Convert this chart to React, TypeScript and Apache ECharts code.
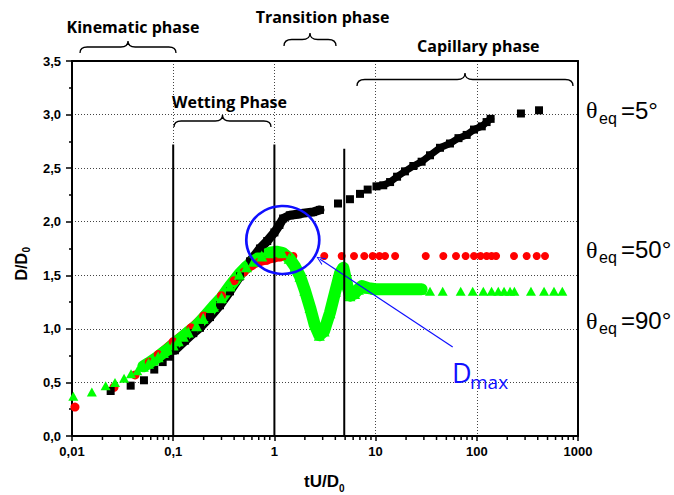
import { useEffect, useRef } from 'react';
import * as echarts from 'echarts';

// ---------------- data ----------------
const xTickLabels = ['0,01', '0,1', '1', '10', '100', '1000'];
const yTickLabels = ['0,0', '0,5', '1,0', '1,5', '2,0', '2,5', '3,0', '3,5'];

// θeq = 5° (black squares)
const blackLow = [[0.0241, 0.42], [0.038, 0.47], [0.0514, 0.52], [0.065, 0.62], [0.0787, 0.69], [0.093, 0.74]];
const blackDense = [
  [0.104, 0.8], [0.131, 0.89], [0.158, 0.96], [0.184, 1.01], [0.231, 1.11], [0.29, 1.22], [0.364, 1.35],
  [0.457, 1.49], [0.574, 1.63], [0.72, 1.75], [0.85, 1.82], [1.0, 1.9], [1.12, 1.97], [1.22, 2.03],
  [1.42, 2.06], [1.7, 2.07], [1.93, 2.08], [2.4, 2.09], [2.82, 2.11],
];
const blackMid = [[4.25, 2.17], [5.58, 2.21], [7.01, 2.26], [8.35, 2.3]];
const blackDense2 = [
  [10.2, 2.33], [11.9, 2.34], [13.9, 2.37], [16.3, 2.42], [19.5, 2.47], [23.6, 2.52], [28.5, 2.56],
  [34.5, 2.62], [43.3, 2.69], [54.3, 2.73], [65.9, 2.78], [79.4, 2.81], [93.8, 2.86], [112, 2.89],
  [125, 2.93], [137, 2.96],
];
const blackHigh = [[273, 3.01], [412, 3.04]];

// θeq = 50° (red circles)
const redLow = [[0.0107, 0.27], [0.026, 0.455], [0.042, 0.57]];
const redDense = [
  [0.058, 0.69], [0.071, 0.76], [0.1, 0.88], [0.15, 1.01], [0.2, 1.12], [0.3, 1.31], [0.4, 1.45],
  [0.5, 1.53], [0.6, 1.59], [0.7, 1.62], [0.84, 1.64], [1.0, 1.66], [1.14, 1.67], [1.32, 1.68],
];
const redSparse = [
  [1.54, 1.68], [3.11, 1.68], [4.62, 1.68], [6.12, 1.68], [7.73, 1.68], [9.35, 1.68], [10.9, 1.68],
  [12.4, 1.68], [15.6, 1.68], [31.3, 1.68], [46.7, 1.68], [62.3, 1.68], [77.6, 1.68], [93.8, 1.68],
  [109, 1.68], [125, 1.68], [140, 1.68], [155, 1.68], [233, 1.68], [311, 1.68], [391, 1.68], [472, 1.68],
];

// θeq = 90° (green triangles)
const greenLow = [[0.0103, 0.37], [0.0157, 0.41], [0.0215, 0.47], [0.0266, 0.5], [0.0327, 0.54], [0.0383, 0.58], [0.0442, 0.61]];
const greenDense = [
  [0.0507, 0.65], [0.057, 0.68], [0.0636, 0.71], [0.071, 0.74], [0.08, 0.78], [0.089, 0.81], [0.1, 0.85],
  [0.112, 0.89], [0.126, 0.93], [0.141, 0.97], [0.17, 1.03], [0.198, 1.1], [0.25, 1.21], [0.3, 1.29],
  [0.364, 1.4], [0.45, 1.51], [0.53, 1.58], [0.62, 1.63], [0.75, 1.68], [0.9, 1.71], [1.05, 1.72],
  [1.2, 1.71], [1.4, 1.66], [1.6, 1.58], [1.79, 1.49], [2.0, 1.36], [2.25, 1.2], [2.5, 1.04],
  [2.78, 0.94], [3.1, 0.98], [3.54, 1.15], [4.0, 1.35], [4.45, 1.52], [4.8, 1.57], [5.2, 1.42],
  [5.58, 1.31], [6.2, 1.33], [6.76, 1.37], [7.3, 1.4], [8.5, 1.38], [10, 1.37], [14, 1.37], [20, 1.37],
  [28.5, 1.37],
];
const greenSparse = [
  [34.5, 1.35], [46.0, 1.35], [69.3, 1.35], [91.1, 1.35], [116, 1.35], [140, 1.35], [163, 1.35],
  [186, 1.35], [213, 1.35], [235, 1.35], [343, 1.35], [462, 1.35], [579, 1.35], [700, 1.35],
];

// phase boundaries: [x, top of line]
const phaseBoundaries = [[0.1, 2.72], [1, 2.72], [4.9, 2.68]];
// Dmax marker
const dmaxCircle = [[1.21, 1.83]];
const dmaxPointer = [[57.8, 0.83], [2.83, 1.65]];

const decades = [0.01, 0.1, 1, 10, 100];
const minorMultipliers = [2, 3, 4, 5, 6, 7, 8, 9];

// ---------------- shapes ----------------
const BraceShape = (echarts as any).graphic.extendShape({
  shape: { x: 0, y: 0, w: 100, h: 12 },
  buildPath(ctx: any, s: any) {
    const { x, y, w, h } = s;
    const mid = y + h / 2;
    const bottom = y + h;
    const cx = x + w / 2;
    const r = Math.min(h * 0.6, w / 6);
    ctx.moveTo(x, bottom);
    ctx.quadraticCurveTo(x, mid, x + r, mid);
    ctx.lineTo(cx - r, mid);
    ctx.quadraticCurveTo(cx, mid, cx, y);
    ctx.quadraticCurveTo(cx, mid, cx + r, mid);
    ctx.lineTo(x + w - r, mid);
    ctx.quadraticCurveTo(x + w, mid, x + w, bottom);
  },
});
(echarts as any).graphic.registerShape('brace', BraceShape);

const BLUE = '#0f0fff';

function txt(text: string, x: number, y: number, size: number, opts: any = {}) {
  return {
    type: 'text',
    x,
    y,
    silent: true,
    z: 100,
    style: {
      text,
      fontSize: size,
      fontFamily: opts.family || 'Liberation Sans',
      fontWeight: opts.weight || 'normal',
      fill: opts.color || '#000',
      align: opts.align || 'left',
      textAlign: opts.align || 'left',
      verticalAlign: 'middle',
      textVerticalAlign: 'middle',
    },
  };
}

function brace(x: number, y: number, w: number, h: number) {
  return {
    type: 'brace',
    silent: true,
    z: 100,
    shape: { x, y, w, h },
    style: { stroke: '#000', fill: 'none', lineWidth: 1.3 },
  };
}

function thetaLabel(val: string, y: number) {
  return [
    txt('θ', 586, y, 24, { family: 'Liberation Serif' }),
    txt('eq', 599, y + 8, 16),
    txt('=' + val + '°', 621, y, 24),
  ];
}

export default function App() {
  const ref = useRef<HTMLDivElement>(null);

  useEffect(() => {
    if (!ref.current) return;
    const chart = echarts.init(ref.current, undefined, { renderer: 'svg' });

    const xMinorTicks: number[][] = [];
    decades.forEach((d) => minorMultipliers.forEach((m) => xMinorTicks.push([d * m, 0])));

    const axisLabelFont = { fontFamily: 'Liberation Sans', fontWeight: 'bold', fontSize: 13, color: '#000' };
    const gridLine = { show: true, lineStyle: { color: '#444', width: 1, type: [1, 2] } };

    const denseLine = (data: number[][], color: string, symbol: string, size: any, width: number) => ({
      type: 'line',
      data,
      symbol,
      symbolSize: size,
      showSymbol: true,
      showAllSymbol: true,
      itemStyle: { color, opacity: 1 },
      lineStyle: { color, width, cap: 'round', join: 'round', opacity: 1 },
      silent: true,
    });
    const scatter = (data: number[][], color: string, symbol: string, size: any) => ({
      type: 'scatter',
      data,
      symbol,
      symbolSize: size,
      itemStyle: { color, opacity: 1 },
      silent: true,
    });

    const option: any = {
      animation: false,
      backgroundColor: '#fff',
      grid: { left: 72, top: 61, right: 96, bottom: 59, containLabel: false, outerBoundsMode: 'none' },
      xAxis: [
        {
          type: 'log',
          logBase: 10,
          min: 0.01,
          max: 1000,
          axisLine: { show: true, onZero: false, lineStyle: { color: '#000', width: 2 } },
          axisTick: { show: true, length: 5, lineStyle: { color: '#000', width: 1.5 } },
          minorTick: { show: false },
          axisLabel: {
            ...axisLabelFont,
            margin: 9,
            formatter: (v: number) => xTickLabels[Math.round(Math.log10(v)) + 2] ?? '',
          },
          splitLine: gridLine,
        },
        {
          type: 'log',
          logBase: 10,
          min: 0.01,
          max: 1000,
          position: 'top',
          axisLine: { show: true, onZero: false, lineStyle: { color: '#000', width: 2 } },
          axisTick: { show: false },
          axisLabel: { show: false },
          splitLine: { show: false },
        },
      ],
      yAxis: [
        {
          type: 'value',
          min: 0,
          max: 3.5,
          interval: 0.5,
          axisLine: { show: true, onZero: false, lineStyle: { color: '#000', width: 2 } },
          axisTick: { show: true, length: 6, lineStyle: { color: '#000', width: 1.5 } },
          minorTick: { show: true, splitNumber: 2, length: 3, lineStyle: { color: '#000', width: 1.5 } },
          axisLabel: {
            ...axisLabelFont,
            margin: 11,
            formatter: (v: number) => yTickLabels[Math.round(v / 0.5)] ?? '',
          },
          splitLine: gridLine,
        },
        {
          type: 'value',
          min: 0,
          max: 3.5,
          position: 'right',
          axisLine: { show: true, onZero: false, lineStyle: { color: '#000', width: 2 } },
          axisTick: { show: false },
          axisLabel: { show: false },
          splitLine: { show: false },
        },
      ],
      series: [
        {
          type: 'custom',
          silent: true,
          clip: false,
          data: xMinorTicks,
          renderItem: (_p: any, api: any) => {
            const pt = api.coord([api.value(0), api.value(1)]);
            return {
              type: 'line',
              shape: { x1: pt[0], y1: pt[1] + 1, x2: pt[0], y2: pt[1] + 4 },
              style: { stroke: '#000', lineWidth: 1.5 },
            };
          },
        },
        // red
        denseLine(redDense, '#ff0000', 'circle', 9, 8),
        scatter(redLow, '#ff0000', 'circle', 9),
        scatter(redSparse, '#ff0000', 'circle', 8),
        // black
        denseLine(blackDense, '#000000', 'rect', 8, 9),
        denseLine(blackDense2, '#000000', 'rect', 8, 7),
        scatter(blackLow, '#000000', 'rect', 8),
        scatter(blackMid, '#000000', 'rect', 8),
        scatter(blackHigh, '#000000', 'rect', 8),
        // green
        denseLine(greenDense, '#00ff00', 'triangle', 11, 12),
        scatter(greenLow, '#00ff00', 'triangle', [10, 9]),
        scatter(greenSparse, '#00ff00', 'triangle', [10, 9]),
        // phase boundaries
        ...phaseBoundaries.map((b) => ({
          type: 'line',
          data: [[b[0], 0], [b[0], b[1]]],
          symbol: 'none',
          silent: true,
          lineStyle: { color: '#000', width: 2 },
          z: 10,
        })),
        // Dmax ellipse + pointer
        {
          type: 'scatter',
          data: dmaxCircle,
          symbol: 'circle',
          symbolSize: [73, 68],
          silent: true,
          z: 11,
          itemStyle: { color: 'rgba(0,0,0,0)', borderColor: BLUE, borderWidth: 2.6, opacity: 1 },
          markLine: {
            silent: true,
            symbol: ['none', 'path://M0,10 L5,0 L10,10 L8.6,10 L5,2.6 L1.4,10 Z'],
            symbolSize: [8, 9],
            label: { show: false },
            lineStyle: { color: BLUE, width: 1.2, type: 'solid', opacity: 1 },
            data: [[{ coord: dmaxPointer[0] }, { coord: dmaxPointer[1] }]],
          },
        },
      ],
      graphic: [
        // phase labels
        txt('Kinematic phase', 133, 26.5, 16, { family: 'Open Sans', weight: 'bold', align: 'center' }),
        brace(80, 41, 96, 12),
        txt('Transition phase', 322.5, 16.7, 16, { family: 'Open Sans', weight: 'bold', align: 'center' }),
        brace(284, 33, 52, 13),
        txt('Wetting Phase', 229.5, 102.2, 16, { family: 'Open Sans', weight: 'bold', align: 'center' }),
        brace(174, 115, 97, 12),
        txt('Capillary phase', 478.3, 45.5, 16, { family: 'Open Sans', weight: 'bold', align: 'center' }),
        brace(357, 73, 216, 13),
        // theta labels
        ...thetaLabel('5', 110),
        ...thetaLabel('50', 249.5),
        ...thetaLabel('90', 320.5),
        // Dmax
        txt('D', 452, 372, 27, { family: 'Open Sans', color: BLUE }),
        txt('max', 470, 382, 19, { family: 'Open Sans', color: BLUE }),
        // axis titles
        txt('tU/D', 304, 481, 17, { weight: 'bold' }),
        txt('0', 339, 488, 10, { weight: 'bold' }),
        {
          type: 'group',
          x: 21,
          y: 264,
          rotation: Math.PI / 2,
          children: [
            txt('D/D', -16.5, 0, 16, { weight: 'bold' }),
            txt('0', 11.5, 5, 10, { weight: 'bold' }),
          ],
        },
      ],
    };

    chart.setOption(option);
    return () => chart.dispose();
  }, []);

  return (
    <div
      ref={ref}
      style={{ position: 'fixed', left: 0, top: 0, width: 674, height: 495, background: '#fff' }}
    />
  );
}
